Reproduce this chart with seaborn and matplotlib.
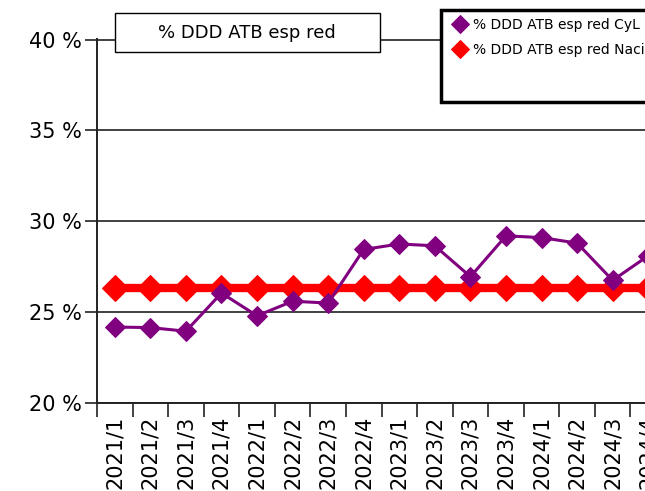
import pandas as pd
import matplotlib
matplotlib.use('Agg')
import matplotlib.pyplot as plt
import matplotlib.patches as mpatches
import seaborn as sns

# values
periods = ['2021/1', '2021/2', '2021/3', '2021/4',
           '2022/1', '2022/2', '2022/3', '2022/4',
           '2023/1', '2023/2', '2023/3', '2023/4',
           '2024/1', '2024/2', '2024/3', '2024/4']
cyl = [24.18, 24.15, 23.95, 26.05, 24.8, 25.6, 25.5, 28.45,
       28.75, 28.65, 26.95, 29.2, 29.1, 28.8, 26.75, 28.1]
nac = [26.35] * 16
series_names = ['% DDD ATB esp red CyL', '% DDD ATB esp red Nacional']
title = '% DDD ATB esp red'
yticks = [20, 25, 30, 35, 40]

sns.set_style('white')
plt.rcParams['font.family'] = ['DejaVu Sans']
plt.rcParams['text.color'] = 'black'
plt.rcParams['xtick.color'] = 'black'
plt.rcParams['ytick.color'] = 'black'

df = pd.DataFrame({'Periodo': periods * 2,
                   'Valor': cyl + nac,
                   'Serie': [series_names[0]] * 16 + [series_names[1]] * 16})

fig = plt.figure(figsize=(6.45, 4.91), dpi=100)
# axes runs past the right edge like in the reference
ax = fig.add_axes([97 / 645, 88 / 491, 569 / 645, 364 / 491])

sns.lineplot(data=df[df['Serie'] == series_names[1]], x='Periodo', y='Valor',
             color='#ff0000', lw=6, marker='D', markersize=13,
             markeredgecolor='#ff0000', ax=ax, zorder=3, label=series_names[1])
sns.lineplot(data=df[df['Serie'] == series_names[0]], x='Periodo', y='Valor',
             color='#800080', lw=2.2, marker='D', markersize=10,
             markeredgecolor='#800080', ax=ax, zorder=4, label=series_names[0])

ax.set_xlim(-0.5, 15.5)
ax.set_ylim(20, 40.03)
ax.set_yticks(yticks)
ax.set_yticklabels([f'{v} %' for v in yticks], fontsize=15)
ax.set_xticks(range(16))
ax.set_xticklabels(periods, rotation=90, fontsize=15)
ax.set_xticks([i - 0.5 for i in range(17)], minor=True)
ax.tick_params(axis='x', which='major', length=0, pad=9, bottom=True)
ax.tick_params(axis='x', which='minor', length=10, width=1.2, color='#222222',
               direction='out', bottom=True)
ax.tick_params(axis='y', length=9, width=1.2, color='#222222', direction='out',
               left=True, pad=2)
ax.set_xlabel('')
ax.set_ylabel('')
ax.grid(axis='y', color='#404040', lw=1.4)
ax.set_axisbelow(True)
for s in ['top', 'right']:
    ax.spines[s].set_visible(False)
for s in ['left', 'bottom']:
    ax.spines[s].set_color('#222222')
    ax.spines[s].set_linewidth(1.4)

# legend with framed box
h, l = ax.get_legend_handles_labels()
ax.get_legend().remove()
fig.patches.append(mpatches.Rectangle((441 / 645, 1 - 102 / 491), 0.4, 92 / 491,
                                      transform=fig.transFigure, fc='white',
                                      ec='black', lw=2.5, zorder=5))
leg = fig.legend(h[::-1], l[::-1], loc='upper left',
                 bbox_to_anchor=(442 / 645, 1 - 7 / 491), frameon=False,
                 fontsize=10, handlelength=1.0, handletextpad=0.4,
                 labelspacing=0.8, borderpad=0.3)
leg.set_zorder(6)
for line in leg.get_lines():
    line.set_linewidth(2)
    line.set_markersize(9)

# title box over the 40 % gridline
fig.patches.append(mpatches.Rectangle((115 / 645, 1 - 52 / 491), 265 / 645, 39 / 491,
                                      transform=fig.transFigure, fc='white',
                                      ec='black', lw=1, zorder=5))
fig.text(247 / 645, 1 - 32.5 / 491, title, ha='center', va='center',
         fontsize=13, zorder=6)

fig.savefig('out.png', dpi=100)
